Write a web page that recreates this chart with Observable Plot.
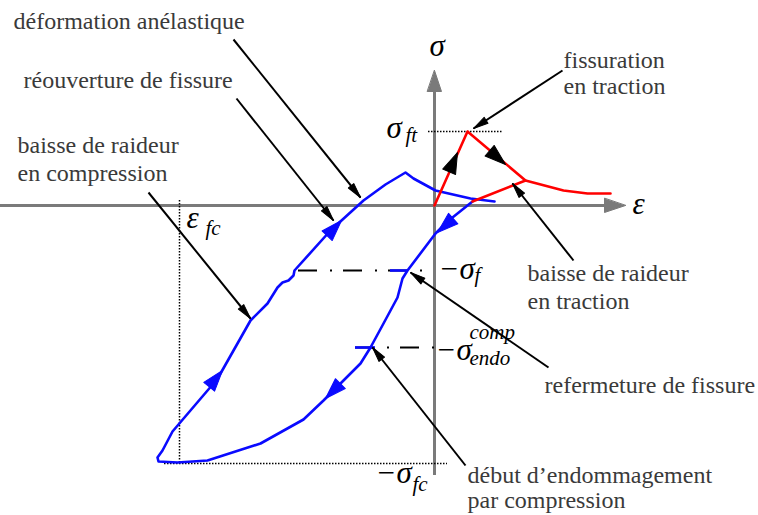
<!DOCTYPE html>
<html><head><meta charset="utf-8">
<script src="https://cdn.jsdelivr.net/npm/d3@7"></script>
<script src="https://cdn.jsdelivr.net/npm/@observablehq/plot@0.6"></script>
<style>body{margin:0;background:#fff;font-family:"Liberation Serif",serif;} svg{display:block}</style>
</head><body><div id="chart"></div>
<script>
// ---- Data (strain eps, stress sig in schematic units) ----
// Tensile branch (red)
const redEps = [0, 3.3, 9.1, 12.9, 15.3, 17.6];
const redSig = [0, 7.4, 2.5, 1.5, 1.2, 1.2];
const redUnloadEps = [9.1, 3.8];
const redUnloadSig = [2.5, 0.4];
// Compression loop (blue)
const blueEps = [3.8, 1.3, 0.1, -2.7, -3.2, -3.7, -5.1, -6.4, -7.4, -9.1,
  -11.1, -13.1, -17.4, -22.7, -25.7, -27.6, -27.7, -27.2, -26.2, -22.1,
  -21.4, -18.4, -16.7, -15.7, -15.2, -14.6, -14.1, -14.0, -10.4, -7.1,
  -4.9, -2.9, -2.1, 0.1, 3.6, 6.0];
const blueSig = [0.4, -1.6, -2.8, -6.5, -7.3, -9.2, -11.8, -14.2, -15.8, -17.5,
  -19.5, -21.4, -23.8, -25.5, -25.7, -25.6, -25.2, -24.5, -22.6, -17.8,
  -16.8, -11.5, -9.8, -8.2, -7.7, -7.5, -7.0, -6.5, -2.5, 0.5,
  2.1, 3.3, 2.7, 1.5, 0.7, 0.4];
// Characteristic levels
const sigFt = 7.4, sigF = -6.5, sigEndo = -14.2, sigFc = -25.8, epsFc = -25.5;
// Level marks on the blue curve
const tickEps1 = [-4.4, -7.9], tickEps2 = [-2.7, -5.9], tickSig = [sigF, sigEndo];
// Dash-dot level lines
const dashEps1 = [-13.6, -7.9], dashEps2 = [-0.9, 0], dashSig = [sigF, sigEndo];
// Dotted guide lines
const ftEps = [-0.6, 6.9];
const fcEps = [-27.0, 1.3];
const efcSig = [0.5, sigFc];
// Axes
const axisEps = [-43.4, 17.1], axisEpsTip = 19.1;
const axisSig = [-27.0, 11.5], axisSigTip = 13.5;
// Direction arrows on curves
const flowEps = [2.3, 7.1, 0.3, -9.3, -21.2, -10.9];
const flowSig = [5.3, 4.1, -2.7, -1.5, -16.5, -19.3];
const flowFromEps = [0, 3.3, 3.8, -14.0, -26.2, -9.1];
const flowFromSig = [0, 7.4, 0.4, -6.5, -22.6, -17.5];
const flowBranch = ["traction", "traction", "compression", "compression", "compression", "compression"];
// Annotation arrows
const annEps1 = [-20.1, -19.8, -28.6, 12.8, 13.9, 11.4, 3.1];
const annSig1 = [16.6, 10.7, 1.3, 13.5, -5.5, -16.2, -26.0];
const annEps2 = [-7.4, -10.1, -18.4, 3.9, 7.8, -2.4, -6.2];
const annSig2 = [0.8, -1.5, -11.3, 7.7, 2.2, -6.7, -14.2];
// Annotation texts (one entry per line)
const noteText = ["déformation anélastique", "réouverture de fissure", "baisse de raideur", "en compression",
  "fissuration", "en traction", "baisse de raideur", "en traction", "refermeture de fissure",
  "début d’endommagement", "par compression"];
const noteEps = [-42.1, -41.1, -41.7, -41.7, 12.9, 12.9, 9.3, 9.3, 11.0, 3.3, 3.3];
const noteSig = [17.7, 11.8, 5.3, 2.5, 13.8, 11.2, -7.5, -10.3, -18.7, -27.7, -30.2];
// Math symbols
const symText = ["σ", "ε", "σ", "−σ", "−σ", "−σ", "ε"];
const symEps = [-0.5, 19.8, -4.8, 0.4, 0.1, -5.9, -24.8];
const symSig = [15.0, -0.8, 6.8, -7.3, -15.4, -27.7, -2.2];
const subText = ["ft", "f", "endo", "comp", "fc", "fc"];
const subEps = [-2.9, 4.0, 3.5, 3.5, -2.2, -22.9];
const subSig = [6.4, -7.6, -15.9, -13.3, -28.5, -2.9];

// ---- Build tables ----
const pts = (xs, ys) => xs.map((x, i) => ({x, y: ys[i]}));
const red = pts(redEps, redSig);
const redUnload = pts(redUnloadEps, redUnloadSig);
const blue = pts(blueEps, blueSig);
const deg = (dx, dy) => Math.atan2(dx, dy) * 180 / Math.PI;
const flows = flowEps.map((x, i) => ({x, y: flowSig[i], branch: flowBranch[i],
  rot: deg(x - flowFromEps[i], flowSig[i] - flowFromSig[i])}));
const anns = annEps1.map((x1, i) => ({x1, y1: annSig1[i], x2: annEps2[i], y2: annSig2[i],
  rot: deg(annEps2[i] - x1, annSig2[i] - annSig1[i])}));
const notes = noteText.map((t, i) => ({t, x: noteEps[i], y: noteSig[i]}));
const syms = symText.map((t, i) => ({t, x: symEps[i], y: symSig[i]}));
const subs = subText.map((t, i) => ({t, x: subEps[i], y: subSig[i]}));
const ticks = tickSig.map((y, i) => ({y, x1: tickEps1[i], x2: tickEps2[i]}));
const dashes = dashSig.map((y, i) => ({y, x1: dashEps1[i], x2: dashEps2[i]}));

const tri = {draw(ctx, l, r) { ctx.moveTo(0, -l); ctx.lineTo(r, 0); ctx.lineTo(-r, 0); ctx.closePath(); }};
const RED = "#ff0000", BLUE = "#0a0aff", GRAY = "#7a7a7a", TXT = "#3a3a3a";
const serif = "Liberation Serif";

const chart = Plot.plot({
  width: 758, height: 515, margin: 0,
  x: {domain: [-43.4, 32.4], axis: null},
  y: {domain: [-31, 20.5], axis: null},
  marks: [
    // axes
    Plot.ruleY([0], {x1: axisEps[0], x2: axisEps[1], stroke: GRAY, strokeWidth: 3}),
    Plot.ruleX([0], {y1: axisSig[0], y2: axisSig[1], stroke: GRAY, strokeWidth: 3}),
    Plot.vector([{x: axisEpsTip, y: 0, r: 90}, {x: 0, y: axisSigTip, r: 0}],
      {x: "x", y: "y", rotate: "r", length: 21, r: 7, anchor: "end", shape: tri, fill: GRAY, stroke: GRAY, strokeWidth: 1}),
    // dotted guides
    Plot.ruleY([sigFt], {x1: ftEps[0], x2: ftEps[1], stroke: "#000", strokeWidth: 1.5, strokeDasharray: "1.5,1.5"}),
    Plot.ruleY([sigFc], {x1: fcEps[0], x2: fcEps[1], stroke: "#000", strokeWidth: 1.5, strokeDasharray: "1.5,1.5"}),
    Plot.ruleX([epsFc], {y1: efcSig[0], y2: efcSig[1], stroke: "#000", strokeWidth: 1.5, strokeDasharray: "1.5,1.5"}),
    // dash-dot
    Plot.ruleY(dashes, {y: "y", x1: "x1", x2: "x2", stroke: "#000", strokeWidth: 2, strokeDasharray: "19,13,2,11"}),
    // curves
    Plot.line(blue, {x: "x", y: "y", stroke: BLUE, strokeWidth: 2.6, strokeLinejoin: "round"}),
    Plot.line(red, {x: "x", y: "y", stroke: RED, strokeWidth: 2.6, strokeLinejoin: "round"}),
    Plot.line(redUnload, {x: "x", y: "y", stroke: RED, strokeWidth: 2.6}),
    Plot.ruleY(ticks, {y: "y", x1: "x1", x2: "x2", stroke: BLUE, strokeWidth: 2.6}),
    // flow arrows
    Plot.vector(flows, {x: "x", y: "y", rotate: "rot", length: 21, r: 7, anchor: "end", shape: tri,
      fill: d => d.branch === "traction" ? "#000" : BLUE, stroke: d => d.branch === "traction" ? "#000" : BLUE, strokeWidth: 1}),
    // annotation arrows
    Plot.link(anns, {x1: "x1", y1: "y1", x2: "x2", y2: "y2", stroke: "#000", strokeWidth: 2}),
    Plot.vector(anns, {x: "x2", y: "y2", rotate: "rot", length: 15, r: 3.5, anchor: "end", shape: tri, fill: "#000", stroke: "#000", strokeWidth: 1}),
    // texts
    Plot.text(notes, {x: "x", y: "y", text: "t", textAnchor: "start", lineAnchor: "bottom",
      fontFamily: serif, fontSize: 24, fill: TXT}),
    Plot.text(syms, {x: "x", y: "y", text: "t", textAnchor: "start", lineAnchor: "bottom",
      fontFamily: serif, fontStyle: "italic", fontSize: 31, fill: "#000"}),
    Plot.text(subs, {x: "x", y: "y", text: "t", textAnchor: "start", lineAnchor: "bottom",
      fontFamily: serif, fontStyle: "italic", fontSize: 21, fill: "#000"})
  ]
});
document.getElementById("chart").append(chart);
</script>
</body></html>
